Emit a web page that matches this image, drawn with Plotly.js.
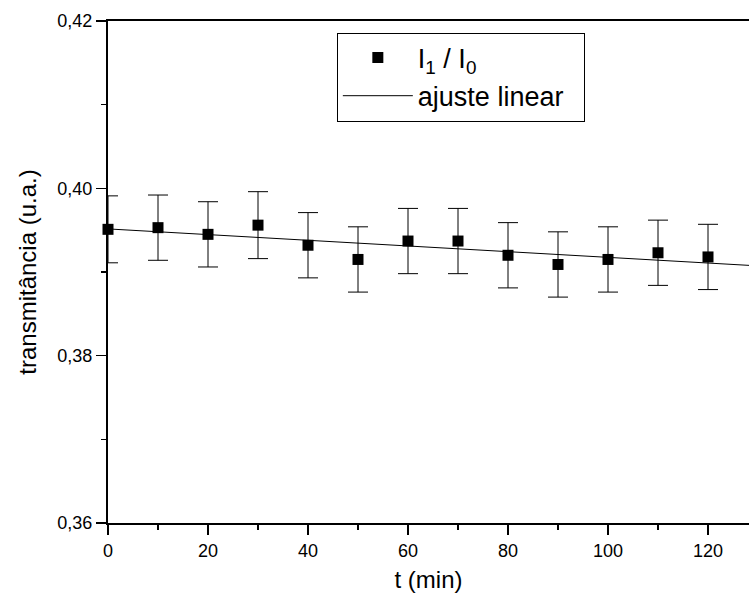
<!DOCTYPE html>
<html>
<head>
<meta charset="utf-8">
<script src="https://cdn.plot.ly/plotly-3.0.1.min.js"></script>
<style>html,body{margin:0;padding:0;background:#fff;}#chart{width:749px;height:603px;}</style>
</head>
<body>
<div id="chart"></div>
<script>
// Data
var timeMin = [0, 10, 20, 30, 40, 50, 60, 70, 80, 90, 100, 110, 120];
var ratioI1I0 = [0.3951, 0.3953, 0.3945, 0.3956, 0.3932, 0.3915, 0.3937, 0.3937, 0.3920, 0.3909, 0.3915, 0.3923, 0.3918];
var ratioError = [0.0040, 0.0039, 0.0039, 0.0040, 0.0039, 0.0039, 0.0039, 0.0039, 0.0039, 0.0039, 0.0039, 0.0039, 0.0039];
var fitTime = [0, 135];
var fitValue = [0.39515, 0.39056];
var xTicks = [0, 20, 40, 60, 80, 100, 120];
var yTicks = [0.36, 0.38, 0.40, 0.42];

var FONT = "Liberation Sans, Arial, sans-serif";

var traces = [
  {
    x: timeMin, y: ratioI1I0, type: "scatter", mode: "markers",
    name: "I<sub>1</sub> / I<sub>0</sub>",
    marker: {symbol: "square", size: 11, color: "#000"},
    error_y: {type: "data", array: ratioError, visible: true, color: "#000", thickness: 1, width: 10},
    cliponaxis: false
  },
  {
    x: fitTime, y: fitValue, type: "scatter", mode: "lines",
    name: "ajuste linear\u00a0\u00a0",
    line: {color: "#000", width: 1}
  }
];

var layout = {
  width: 749, height: 603,
  margin: {l: 108, r: 0, t: 21, b: 80},
  paper_bgcolor: "#fff", plot_bgcolor: "#fff",
  separators: ",.",
  font: {family: FONT, color: "#000", size: 18},
  showlegend: true,
  legend: {
    x: 0.357, y: 0.977, xanchor: "left", yanchor: "top",
    bordercolor: "#000", borderwidth: 1, bgcolor: "#fff",
    itemwidth: 70,
    font: {family: FONT, size: 27, color: "#000"}
  },
  xaxis: {
    range: [0, 128.2], tickvals: xTicks, ticktext: xTicks.map(String),
    showgrid: false, zeroline: false,
    showline: true, linecolor: "#000", linewidth: 2, mirror: true,
    ticks: "outside", ticklen: 10, tickwidth: 1.5, tickcolor: "#000",
    minor: {dtick: 10, ticks: "outside", ticklen: 5, tickwidth: 1.5, tickcolor: "#000", showgrid: false},
    tickfont: {family: FONT, size: 18, color: "#000"},
    title: {text: "t (min)", font: {family: FONT, size: 24, color: "#000"}, standoff: 12}
  },
  yaxis: {
    range: [0.36, 0.42], tickvals: yTicks, tickformat: ".2f",
    showgrid: false, zeroline: false,
    showline: true, linecolor: "#000", linewidth: 2, mirror: false,
    ticks: "outside", ticklen: 10, tickwidth: 1.5, tickcolor: "#000",
    minor: {dtick: 0.01, ticks: "outside", ticklen: 5, tickwidth: 1.5, tickcolor: "#000", showgrid: false},
    tickfont: {family: FONT, size: 18, color: "#000"},
    title: {text: "transmitância (u.a.)", font: {family: FONT, size: 24, color: "#000"}, standoff: 14}
  }
};

Plotly.newPlot("chart", traces, layout, {displayModeBar: false, staticPlot: true});
</script>
</body>
</html>
